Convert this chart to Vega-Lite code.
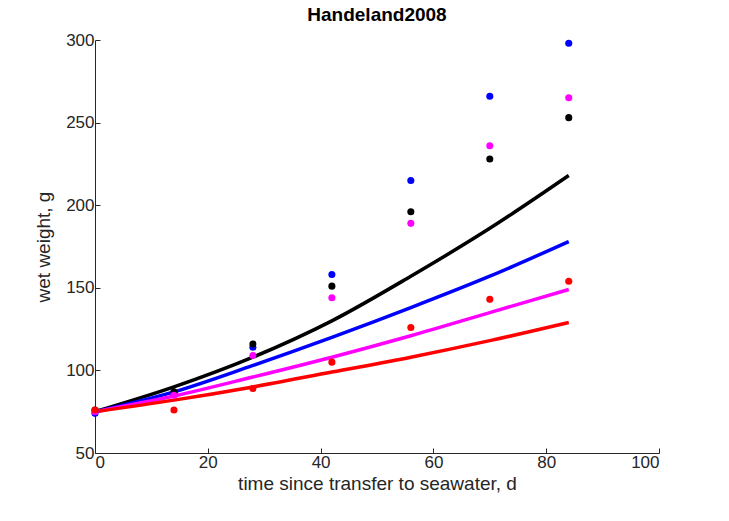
{
  "$schema": "https://vega.github.io/schema/vega-lite/v6.json",
  "autosize": "none",
  "width": 564,
  "height": 413,
  "padding": {"left": 95, "top": 40, "right": 70, "bottom": 68},
  "background": "white",
  "config": {
    "font": "Liberation Sans",
    "view": {"stroke": null},
    "axis": {"domainColor": "#262626", "tickColor": "#262626", "labelColor": "#262626", "titleColor": "#262626", "labelFontSize": 17, "titleFontSize": 19, "titleFontWeight": "normal", "grid": false, "tickSize": -5, "labelPadding": 6}
  },
  "title": {"text": "Handeland2008", "fontSize": 19, "fontWeight": "bold", "offset": 6, "color": "black"},
  "datasets": {
    "pts": [
      {"t": 0, "w": 74, "g": "blue"}, {"t": 14, "w": 86, "g": "blue"}, {"t": 28, "w": 114, "g": "blue"}, {"t": 42, "w": 158, "g": "blue"}, {"t": 56, "w": 215, "g": "blue"}, {"t": 70, "w": 266, "g": "blue"}, {"t": 84, "w": 298, "g": "blue"},
      {"t": 0, "w": 76, "g": "black"}, {"t": 14, "w": 87, "g": "black"}, {"t": 28, "w": 116, "g": "black"}, {"t": 42, "w": 151, "g": "black"}, {"t": 56, "w": 196, "g": "black"}, {"t": 70, "w": 228, "g": "black"}, {"t": 84, "w": 253, "g": "black"},
      {"t": 0, "w": 75, "g": "magenta"}, {"t": 14, "w": 85, "g": "magenta"}, {"t": 28, "w": 109, "g": "magenta"}, {"t": 42, "w": 144, "g": "magenta"}, {"t": 56, "w": 189, "g": "magenta"}, {"t": 70, "w": 236, "g": "magenta"}, {"t": 84, "w": 265, "g": "magenta"},
      {"t": 0, "w": 76, "g": "red"}, {"t": 14, "w": 76, "g": "red"}, {"t": 28, "w": 89, "g": "red"}, {"t": 42, "w": 105, "g": "red"}, {"t": 56, "w": 126, "g": "red"}, {"t": 70, "w": 143, "g": "red"}, {"t": 84, "w": 154, "g": "red"}
    ],
    "fit": [
      {"t": 0, "w": 75, "g": "black"}, {"t": 14, "w": 90, "g": "black"}, {"t": 28, "w": 108, "g": "black"}, {"t": 42, "w": 130, "g": "black"}, {"t": 56, "w": 157, "g": "black"}, {"t": 70, "w": 186, "g": "black"}, {"t": 84, "w": 218, "g": "black"},
      {"t": 0, "w": 75, "g": "blue"}, {"t": 14, "w": 87, "g": "blue"}, {"t": 28, "w": 103, "g": "blue"}, {"t": 42, "w": 120, "g": "blue"}, {"t": 56, "w": 138, "g": "blue"}, {"t": 70, "w": 157, "g": "blue"}, {"t": 84, "w": 178, "g": "blue"},
      {"t": 0, "w": 75, "g": "magenta"}, {"t": 14, "w": 84.5, "g": "magenta"}, {"t": 28, "w": 96, "g": "magenta"}, {"t": 42, "w": 108, "g": "magenta"}, {"t": 56, "w": 121, "g": "magenta"}, {"t": 70, "w": 135, "g": "magenta"}, {"t": 84, "w": 149, "g": "magenta"},
      {"t": 0, "w": 75, "g": "red"}, {"t": 14, "w": 82, "g": "red"}, {"t": 28, "w": 90, "g": "red"}, {"t": 42, "w": 99, "g": "red"}, {"t": 56, "w": 108, "g": "red"}, {"t": 70, "w": 118, "g": "red"}, {"t": 84, "w": 129, "g": "red"}
    ]
  },
  "layer": [
    {
      "data": {"name": "fit"},
      "mark": {"type": "line", "strokeWidth": 3.5, "clip": true, "interpolate": "monotone"},
      "encoding": {
        "x": {"field": "t", "type": "quantitative", "scale": {"domain": [0, 100], "padding": 0, "nice": false}, "axis": {"values": [0, 20, 40, 60, 80, 100], "title": "time since transfer to seawater, d"}},
        "y": {"field": "w", "type": "quantitative", "scale": {"domain": [50, 300], "padding": 0, "nice": false, "zero": false}, "axis": {"values": [50, 100, 150, 200, 250, 300], "title": "wet weight, g", "titlePadding": 12}},
        "color": {"field": "g", "type": "nominal", "scale": {"domain": ["blue", "black", "magenta", "red"], "range": ["#0000ff", "#000000", "#ff00ff", "#ff0000"]}, "legend": null}
      }
    },
    {
      "data": {"name": "pts"},
      "mark": {"type": "circle", "size": 50, "opacity": 1},
      "encoding": {
        "x": {"field": "t", "type": "quantitative"},
        "y": {"field": "w", "type": "quantitative"},
        "color": {"field": "g", "type": "nominal", "legend": null}
      }
    }
  ]
}
